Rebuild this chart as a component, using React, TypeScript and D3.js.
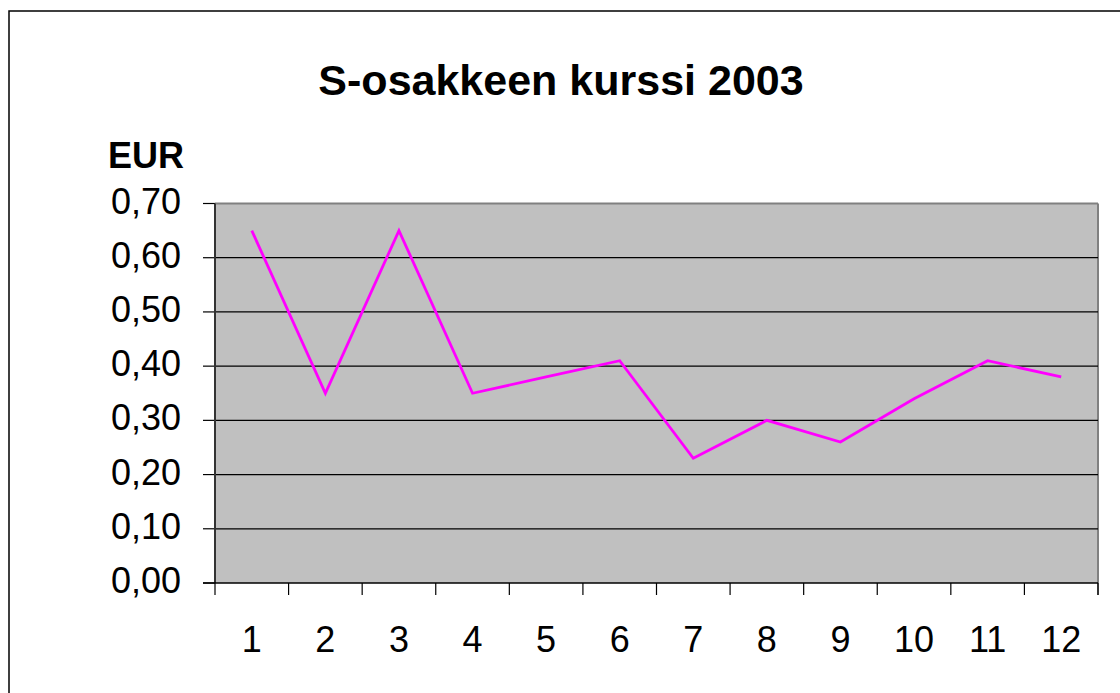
import React from "react";
import { scaleBand, scaleLinear, line } from "d3";

// data
const months = ["1", "2", "3", "4", "5", "6", "7", "8", "9", "10", "11", "12"];
const price = [0.65, 0.35, 0.65, 0.35, 0.38, 0.41, 0.23, 0.3, 0.26, 0.34, 0.41, 0.38];
const yTicks = [0, 0.1, 0.2, 0.3, 0.4, 0.5, 0.6, 0.7];

const title = "S-osakkeen kurssi 2003";
const unit = "EUR";

const App = () => {
  const width = 1120;
  const height = 693;
  const left = 215;
  const right = 1098;
  const top = 203.5;
  const bottom = 583;

  const xScale = scaleBand<string>().domain(months).range([left, right]);
  const yScale = scaleLinear().domain([0, 0.7]).range([bottom, top]);

  const path = line<number>()
    .x((d, i) => (xScale(months[i]) as number) + xScale.bandwidth() / 2)
    .y((d) => yScale(d))(price);

  const fmt = (v: number) => v.toFixed(2).replace(".", ",");
  const font = "'Liberation Sans', Arial, sans-serif";

  // tick positions on category boundaries
  const xBounds = months.map((m) => xScale(m) as number).concat([right]);

  return (
    <svg
      width={width}
      height={height}
      viewBox={`0 0 ${width} ${height}`}
      style={{ position: "absolute", left: 0, top: 0, display: "block", background: "#fff" }}
    >
      {/* outer frame */}
      <rect x={9} y={11} width={1120} height={700} fill="#fff" stroke="#000" strokeWidth={1.5} />

      <text x={561} y={95} textAnchor="middle" fontFamily={font} fontWeight="bold" fontSize={43}>
        {title}
      </text>
      <text x={108} y={168} fontFamily={font} fontWeight="bold" fontSize={36}>
        {unit}
      </text>

      {/* plot area */}
      <rect x={left} y={top} width={right - left} height={bottom - top} fill="#c0c0c0" />
      <line x1={left} x2={right} y1={top} y2={top} stroke="#808080" strokeWidth={2} />
      <line x1={right} x2={right} y1={top} y2={bottom + 12} stroke="#808080" strokeWidth={2} />

      {yTicks.map((t) => (
        <g key={t}>
          {t > 0 && t < 0.7 && (
            <line x1={left} x2={right} y1={yScale(t)} y2={yScale(t)} stroke="#000" strokeWidth={1.2} />
          )}
          <line x1={203} x2={left} y1={yScale(t)} y2={yScale(t)} stroke="#000" strokeWidth={1.2} />
          <text
            x={181}
            y={yScale(t) + 10}
            textAnchor="end"
            fontFamily={font}
            fontSize={36}
          >
            {fmt(t)}
          </text>
        </g>
      ))}

      {/* axes */}
      <line x1={left} x2={left} y1={top} y2={bottom} stroke="#333" strokeWidth={2} />
      <line x1={203} x2={right} y1={bottom} y2={bottom} stroke="#000" strokeWidth={1.5} />
      {xBounds.map((b, i) => (
        <line key={i} x1={b} x2={b} y1={bottom} y2={bottom + 12} stroke="#000" strokeWidth={1.2} />
      ))}
      {months.map((m) => (
        <text
          key={m}
          x={(xScale(m) as number) + xScale.bandwidth() / 2}
          y={652}
          textAnchor="middle"
          fontFamily={font}
          fontSize={36}
        >
          {m}
        </text>
      ))}

      <path d={path || ""} fill="none" stroke="#ff00ff" strokeWidth={2.8} />
    </svg>
  );
};

export default App;
